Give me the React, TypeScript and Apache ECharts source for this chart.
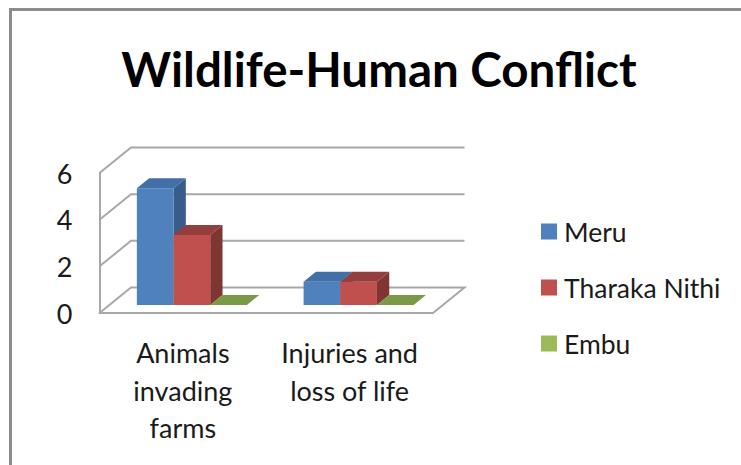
import React, { useEffect, useRef } from "react";
import * as echarts from "echarts";

const categories = ["Animals\ninvading\nfarms", "Injuries and\nloss of life"];
const seriesNames = ["Meru", "Tharaka Nithi", "Embu"];
const meru = [5, 1];
const tharakaNithi = [3, 1];
const embu = [0, 0];
const yTicks = [0, 2, 4, 6];

const FONT = "Lato";
const TEXT = "#1a1a1a";
const WALL = "#a8a8a8";
const DEPTH_X = 31.5;
const DEPTH_Y = 25.5;
const BAR_DEPTH_X = 12.3;
const BAR_DEPTH_Y = 10;
const BAR_OFF_X = 9;
const BAR_OFF_Y = 8;
const BAR_BAND = 0.22;

const palette = [
  { front: "#4F81BD", top: "#416FA6", side: "#385D8A" },
  { front: "#C0504D", top: "#953F3C", side: "#7F3632" },
  { front: "#9BBB59", top: "#7A9A45", side: "#6A8539" },
];

function wallItem(params: any, api: any) {
  const cs = params.coordSys;
  const v = api.value(1);
  const y = api.coord([0, v])[1];
  const x0 = cs.x;
  const x1 = cs.x + cs.width;
  const children: any[] = [];
  const style = { stroke: WALL, lineWidth: 2, fill: "none" };
  const pts: number[][] = [
    [x0, y],
    [x0 + DEPTH_X, y - DEPTH_Y],
    [x1 + DEPTH_X, y - DEPTH_Y],
  ];
  if (v === 0) pts.push([x1, y]);
  children.push({ type: "polyline", shape: { points: pts }, style });
  return { type: "group", children, silent: true };
}

function barItem(s: number) {
  return (params: any, api: any) => {
    const c = api.value(0);
    const v = api.value(1);
    const base = api.coord([c, 0]);
    const topP = api.coord([c, v]);
    const band = api.size([1, 0])[0];
    const w = band * BAR_BAND;
    const xL = base[0] + BAR_OFF_X + (s - 1.5) * w;
    const xR = xL + w;
    const yB = base[1] - BAR_OFF_Y;
    const yT = topP[1] - BAR_OFF_Y;
    const p = palette[s];
    const poly = (points: number[][], fill: string) => ({
      type: "polygon",
      shape: { points },
      style: { fill, stroke: null },
    });
    const children: any[] = [];
    if (v > 0) {
      children.push(
        poly(
          [
            [xR, yB],
            [xR + BAR_DEPTH_X, yB - BAR_DEPTH_Y],
            [xR + BAR_DEPTH_X, yT - BAR_DEPTH_Y],
            [xR, yT],
          ],
          p.side
        ),
        poly(
          [
            [xL, yB],
            [xR, yB],
            [xR, yT],
            [xL, yT],
          ],
          p.front
        )
      );
    }
    children.push(
      poly(
        [
          [xL, yT],
          [xR, yT],
          [xR + BAR_DEPTH_X, yT - BAR_DEPTH_Y],
          [xL + BAR_DEPTH_X, yT - BAR_DEPTH_Y],
        ],
        p.top
      )
    );
    return { type: "group", children, silent: true };
  };
}

export default function App() {
  const ref = useRef<HTMLDivElement>(null);
  useEffect(() => {
    document.body.style.margin = "0";
    document.body.style.background = "#fff";
    const chart = echarts.init(ref.current!, undefined, { renderer: "svg" });
    const values = [meru, tharakaNithi, embu];
    chart.setOption({
      animation: false,
      backgroundColor: "#ffffff",
      textStyle: { fontFamily: FONT },
      title: {
        text: "Wildlife-Human Conflict",
        left: 374,
        top: 39,
        textAlign: "center",
        textStyle: { fontFamily: FONT, fontSize: 47.5, fontWeight: "bold", color: "#000" },
      },
      grid: { left: 99.5, top: 173, width: 333.5, height: 140, containLabel: false },
      xAxis: {
        type: "category",
        data: categories,
        axisLine: { show: true, lineStyle: { color: WALL, width: 2 } },
        axisTick: { show: false },
        axisLabel: {
          interval: 0,
          margin: 21,
          fontFamily: FONT,
          fontSize: 27,
          lineHeight: 37.5,
          color: TEXT,
        },
      },
      yAxis: {
        type: "value",
        min: 0,
        max: 6,
        interval: 2,
        splitLine: { show: false },
        axisLine: { show: true, lineStyle: { color: WALL, width: 2 } },
        axisTick: { show: false },
        axisLabel: { margin: 27, fontFamily: FONT, fontSize: 27, color: TEXT },
      },
      legend: {
        orient: "vertical",
        left: 536,
        top: 213,
        icon: "rect",
        itemWidth: 16,
        itemHeight: 16,
        itemGap: 29,
        data: seriesNames,
        selectedMode: false,
        textStyle: { fontFamily: FONT, fontSize: 26.5, color: TEXT, padding: [0, 0, 0, 2] },
      },
      graphic: [
        {
          type: "rect",
          shape: { x: 10.5, y: 9.5, width: 1000, height: 1000 },
          style: { fill: "none", stroke: "#8c8c8c", lineWidth: 3 },
          silent: true,
          z: 100,
        },
      ],
      series: [
        {
          type: "custom",
          name: "walls",
          data: yTicks.map((v) => [0, v]),
          encode: { x: 0, y: 1 },
          renderItem: wallItem,
          clip: false,
          silent: true,
          z: 1,
        },
        ...seriesNames.map((name, s) => ({
          type: "custom",
          name,
          data: values[s].map((v, i) => [i, v]),
          encode: { x: 0, y: 1 },
          renderItem: barItem(s),
          itemStyle: { color: palette[s].front },
          clip: false,
          silent: true,
          z: 2 + s,
        })),
      ],
    });
    return () => chart.dispose();
  }, []);
  return <div ref={ref} style={{ position: "fixed", left: 0, top: 0, width: 741, height: 465 }} />;
}
